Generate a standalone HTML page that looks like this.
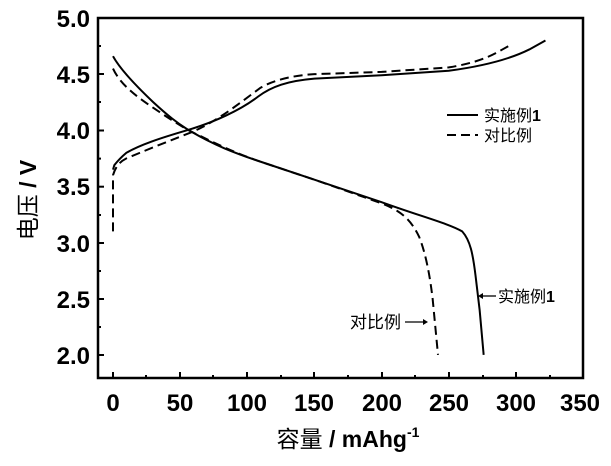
<!DOCTYPE html>
<html><head><meta charset="utf-8"><style>
body{margin:0;background:#fff}
svg{display:block}
text{font-family:"Liberation Sans","Noto Sans CJK SC",sans-serif}
</style></head><body>
<svg width="611" height="466" viewBox="0 0 611 466">
<rect x="98" y="18" width="485" height="360" fill="none" stroke="#000" stroke-width="2.5"/>
<g stroke="#000" stroke-width="2">
<line x1="98" y1="18" x2="104" y2="18"/><line x1="98" y1="74" x2="104" y2="74"/><line x1="98" y1="130.5" x2="104" y2="130.5"/><line x1="98" y1="186.7" x2="104" y2="186.7"/><line x1="98" y1="243" x2="104" y2="243"/><line x1="98" y1="299" x2="104" y2="299"/><line x1="98" y1="355" x2="104" y2="355"/>
<line x1="98" y1="46" x2="101" y2="46"/><line x1="98" y1="102" x2="101" y2="102"/><line x1="98" y1="158.6" x2="101" y2="158.6"/><line x1="98" y1="215" x2="101" y2="215"/><line x1="98" y1="271" x2="101" y2="271"/><line x1="98" y1="327" x2="101" y2="327"/>
<line x1="113" y1="378" x2="113" y2="372"/><line x1="180" y1="378" x2="180" y2="372"/><line x1="247" y1="378" x2="247" y2="372"/><line x1="314" y1="378" x2="314" y2="372"/><line x1="382" y1="378" x2="382" y2="372"/><line x1="449" y1="378" x2="449" y2="372"/><line x1="516" y1="378" x2="516" y2="372"/>
<line x1="146" y1="378" x2="146" y2="375"/><line x1="213" y1="378" x2="213" y2="375"/><line x1="281" y1="378" x2="281" y2="375"/><line x1="348" y1="378" x2="348" y2="375"/><line x1="415" y1="378" x2="415" y2="375"/><line x1="483" y1="378" x2="483" y2="375"/><line x1="550" y1="378" x2="550" y2="375"/>
</g>
<g font-size="24" font-weight="bold" text-anchor="end">
<text x="90" y="27">5.0</text><text x="90" y="83">4.5</text><text x="90" y="139">4.0</text><text x="90" y="195">3.5</text><text x="90" y="252">3.0</text><text x="90" y="308">2.5</text><text x="90" y="364">2.0</text>
</g>
<g font-size="24" font-weight="bold" text-anchor="middle">
<text x="113" y="411">0</text><text x="180" y="411">50</text><text x="247" y="411">100</text><text x="314" y="411">150</text><text x="382" y="411">200</text><text x="449" y="411">250</text><text x="516" y="411">300</text><text x="580" y="411">350</text>
</g>
<text x="348" y="447" font-size="23" text-anchor="middle"><tspan>容量</tspan><tspan font-weight="bold"> / mAhg</tspan><tspan font-weight="bold" font-size="14" dy="-10">-1</tspan></text>
<text transform="translate(36,200) rotate(-90)" font-size="23" text-anchor="middle"><tspan>电压</tspan><tspan font-weight="bold"> / V</tspan></text>
<g transform="translate(113,579.5) scale(1.343,-112.3)" fill="none" stroke="#000" stroke-width="2">
<path vector-effect="non-scaling-stroke" d="M0,3.65 L1,3.69 C3,3.72 5,3.75 10,3.8 C20,3.87 35,3.93 55,4.0 C75,4.07 95,4.18 108,4.3 C118,4.39 130,4.44 150,4.46 L200,4.49 L250,4.53 C275,4.57 295,4.63 310,4.72 L322,4.8"/>
<path vector-effect="non-scaling-stroke" stroke-dasharray="9 5" d="M0,3.1 L0,3.6 C2,3.68 5,3.72 10,3.75 C30,3.85 45,3.92 60,3.99 C80,4.1 95,4.25 110,4.38 C120,4.45 135,4.49 150,4.5 L200,4.52 L250,4.56 C270,4.6 280,4.65 290,4.72 L296,4.76"/>
<path vector-effect="non-scaling-stroke" d="M0,4.66 C5,4.55 15,4.42 30,4.25 C40,4.14 48,4.06 58,3.99 C75,3.87 90,3.8 110,3.72 L150,3.56 L200,3.36 C230,3.23 250,3.17 260,3.1 C266,3.02 268,2.9 270,2.7 L273,2.4 L276,2.0"/>
<path vector-effect="non-scaling-stroke" stroke-dasharray="9 5" d="M0,4.55 C5,4.42 15,4.32 30,4.2 C45,4.08 55,4.0 65,3.95 C80,3.86 95,3.78 110,3.72 L150,3.56 L200,3.35 C215,3.28 222,3.2 228,3.05 C233,2.9 236,2.7 238,2.5 L240,2.25 L242,2.0"/>
</g>
<line x1="447" y1="115" x2="478" y2="115" stroke="#000" stroke-width="2"/>
<line x1="447" y1="135" x2="478" y2="135" stroke="#000" stroke-width="2" stroke-dasharray="9 5"/>
<text x="484" y="121" font-size="16"><tspan>实施例</tspan><tspan font-weight="bold">1</tspan></text>
<text x="484" y="141" font-size="16">对比例</text>
<text x="498" y="302" font-size="16"><tspan>实施例</tspan><tspan font-weight="bold">1</tspan></text>
<line x1="496" y1="296" x2="480" y2="296" stroke="#000" stroke-width="1.3"/>
<path d="M478,296 l5,-3 l0,6z" fill="#000"/>
<text x="350" y="328" font-size="17">对比例</text>
<line x1="405" y1="322" x2="425" y2="322" stroke="#000" stroke-width="1.3"/>
<path d="M428,322 l-5,-3 l0,6z" fill="#000"/>
</svg>
</body></html>
